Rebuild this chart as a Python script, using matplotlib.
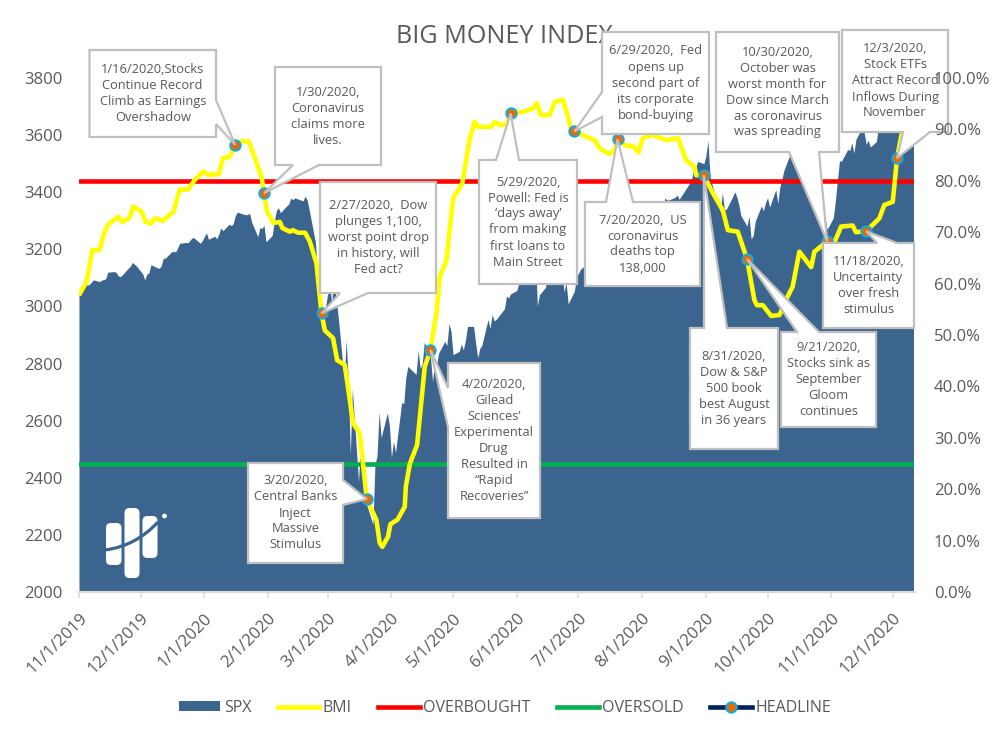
import matplotlib
matplotlib.use('Agg')
import matplotlib.pyplot as plt
import matplotlib.dates as mdates
import pandas as pd
from matplotlib.lines import Line2D
from matplotlib.patches import FancyBboxPatch, PathPatch, Circle, Polygon
from matplotlib.path import Path
from matplotlib.ticker import PercentFormatter
from matplotlib.transforms import IdentityTransform

plt.rcParams['font.family'] = ['Open Sans', 'DejaVu Sans']

# SPX closes, one per trading day
holidays = ['2019-11-28', '2019-12-25', '2020-01-01', '2020-01-20', '2020-02-17',
            '2020-04-10', '2020-05-25', '2020-07-03', '2020-09-07', '2020-11-26']
spx_values = [
    3052, 3078, 3075, 3077, 3085, 3093, 3087, 3092, 3094, 3097, 3120, 3122, 3120, 3108, 3104, 3110, 3134, 3141, 3154, 3141,
    3114, 3093, 3113, 3117, 3146, 3136, 3133, 3142, 3169, 3169, 3191, 3193, 3191, 3205, 3221, 3224, 3223, 3240, 3240, 3221, 3231,
    3258, 3235, 3246, 3237, 3253, 3275, 3265, 3288, 3283, 3289, 3317, 3330, 3321, 3322, 3326, 3295, 3244, 3276, 3273, 3284, 3226,
    3249, 3298, 3335, 3346, 3328, 3352, 3358, 3379, 3374, 3380, 3370, 3386, 3373, 3338, 3226, 3128, 3116, 2979, 2954,
    3090, 3003, 3130, 3024, 2972, 2747, 2882, 2741, 2481, 2711, 2386, 2529, 2398, 2409, 2305, 2237, 2447, 2476, 2630, 2541, 2627, 2585,
    2471, 2527, 2489, 2664, 2659, 2750, 2790, 2762, 2846, 2783, 2800, 2875, 2823, 2737, 2799, 2798, 2837, 2878, 2863, 2940, 2912,
    2831, 2843, 2868, 2848, 2881, 2930, 2930, 2870, 2820, 2853, 2864, 2954, 2923, 2972, 2949, 2955, 2992, 3036, 3030, 3044,
    3056, 3081, 3123, 3112, 3194, 3232, 3207, 3190, 3002, 3041, 3067, 3125, 3113, 3115, 3098, 3118, 3131, 3050, 3084, 3009, 3053, 3100,
    3116, 3130, 3155, 3180, 3145, 3170, 3152, 3185, 3155, 3198, 3227, 3216, 3225, 3252, 3257, 3276, 3236, 3216, 3239, 3218, 3246, 3271,
    3295, 3307, 3328, 3349, 3351, 3360, 3334, 3380, 3373, 3373, 3382, 3390, 3375, 3386, 3397, 3431, 3444, 3479, 3485, 3508, 3500,
    3527, 3581, 3455, 3427, 3332, 3399, 3339, 3341, 3384, 3401, 3385, 3357, 3319, 3281, 3316, 3237, 3247, 3298, 3352, 3335, 3363,
    3381, 3348, 3409, 3361, 3419, 3447, 3477, 3534, 3512, 3489, 3483, 3484, 3427, 3443, 3436, 3453, 3465, 3401, 3391, 3271, 3310, 3270,
    3310, 3369, 3443, 3510, 3509, 3550, 3546, 3573, 3537, 3585, 3627, 3610, 3568, 3582, 3558, 3578, 3635, 3630, 3638, 3622,
    3662, 3669, 3667, 3699, 3692, 3702, 3673, 3668, 3663,
]

# BMI, days since 11/1/2019 and percent
bmi_days = [0.5, 3.7, 6.5, 10, 12, 14, 19, 21, 24.5, 26.4, 30.5, 32.4, 35, 37, 40.7, 46, 49, 53, 56.4, 60.4,
            63.7, 68, 70, 73.4, 76, 79, 82.6, 85.6, 88.8, 90, 91.5, 94.5, 97.7, 99, 102.6, 104, 106.6, 110, 112.3, 115.5,
            118, 119.6, 123.6, 125.6, 129.3, 133.4, 136.6, 140, 144.7, 146.3, 147.6, 150.4, 151.5, 155, 158.5, 159, 161, 164.5, 168.2, 171,
            173.9, 175.5, 178.8, 182, 186.5, 190, 192.5, 194.1, 200.6, 202.2, 204.7, 207.9, 210, 216, 220.9, 222.8, 224.6, 229, 231.4, 235.4,
            237.9, 239.5, 241, 250.9, 253.3, 258.1, 260.6, 262, 266.3, 269.5, 272.2, 274.3, 279.2, 285.7, 291.4, 295.4, 299.5, 300.3, 304,
            308.4, 313.2, 315.7, 320.5, 325, 328.6, 329.8, 332.7, 336.8, 340.8, 344.8, 347.2, 350.5, 356.2, 357.8, 364, 367.5, 370.8, 376.4, 378,
            383, 389.4, 391.8, 395.9, 397.6, 398, 400, 402]
bmi_values = [58.1, 60.4, 66.5, 66.5, 69.5, 71.4, 73.0, 72.0, 72.7, 75.0, 74.0, 72.0, 71.7, 72.7, 72.2, 74.0, 78.3, 78.3, 80.2, 81.8,
              81.1, 81.3, 84.4, 84.7, 87.0, 87.7, 87.7, 84.4, 80.8, 77.6, 74.0, 71.8, 72.0, 70.8, 70.1, 70.4, 69.9, 69.9, 68.2, 64.0,
              54.2, 50.9, 49.4, 45.1, 44.2, 32.8, 30.9, 18.1, 14.0, 9.5, 8.8, 10.8, 13.2, 14.1, 16.6, 20.5, 25.0, 28.6, 43.8, 47.1,
              54.2, 61.3, 64.6, 76.6, 79.5, 87.9, 91.5, 90.5, 90.5, 91.4, 90.9, 90.9, 93.1, 93.4, 94.1, 95.1, 92.8, 92.8, 95.3, 95.8,
              92.5, 89.9, 89.6, 87.9, 86.3, 85.2, 86.0, 88.1, 86.8, 86.8, 85.5, 88.3, 88.9, 87.9, 88.3, 84.0, 82.7, 81.1, 81.1,
              77.6, 74.3, 70.4, 70.1, 64.8, 56.8, 55.8, 55.8, 53.7, 53.9, 57.5, 59.4, 66.2, 63.2, 66.2, 68.2, 68.0, 71.1, 71.3, 70.0,
              70.2, 72.7, 75.3, 75.9, 82.7, 84.4, 88.6, 92.0]

overbought = 80
oversold = 25

headline_dates = ['2020-01-16', '2020-01-30', '2020-02-27', '2020-03-20', '2020-04-20', '2020-05-29', '2020-06-29',
                  '2020-07-20', '2020-08-31', '2020-09-21', '2020-10-30', '2020-11-18', '2020-12-03']
headline_values = [87.0, 77.6, 54.2, 18.1, 47.1, 93.1, 89.6, 88.1, 81.1, 64.8, 68.2, 70.2, 84.4]
headline_texts = [
    '1/16/2020,Stocks\nContinue Record\nClimb as Earnings\nOvershadow',
    '1/30/2020,\nCoronavirus\nclaims more\nlives.',
    '2/27/2020,  Dow\nplunges 1,100,\nworst point drop\nin history, will\nFed act?',
    '3/20/2020,\nCentral Banks\nInject\nMassive\nStimulus',
    '4/20/2020,\nGilead\nSciences’\nExperimental\nDrug\nResulted in\n“Rapid\nRecoveries”',
    '5/29/2020,\nPowell: Fed is\n‘days away’\nfrom making\nfirst loans to\nMain Street',
    '6/29/2020,  Fed\nopens up\nsecond part of\nits corporate\nbond-buying',
    '7/20/2020,  US\ncoronavirus\ndeaths top\n138,000',
    '8/31/2020,\nDow & S&P\n500 book\nbest August\nin 36 years',
    '9/21/2020,\nStocks sink as\nSeptember\nGloom\ncontinues',
    '10/30/2020,\nOctober was\nworst month for\nDow since March\nas coronavirus\nwas spreading',
    '11/18/2020,\nUncertainty\nover fresh\nstimulus',
    '12/3/2020,\nStock ETFs\nAttract Record\nInflows During\nNovember',
]

# callout layout in image pixels: box (left, top, right, bottom), side the tail leaves from, tail base
callout_boxes = [(89.5, 50, 216, 137), (275, 67, 381, 165), (320, 182, 436, 293), (248, 463, 343, 563),
                 (448, 363, 540, 518), (479, 160, 577, 284), (602, 32, 709, 134), (585, 202, 700, 286),
                 (690, 328, 778, 449), (781, 332, 876, 427), (716, 32, 839, 152), (823, 243, 914, 328),
                 (842, 30, 948, 132)]
callout_tails = [('right', 100, 124), ('bottom', 293, 319), ('bottom', 340, 368), ('right', 480, 505),
                 ('left', 388, 427), ('top', 496, 519), ('left', 92, 117), ('top', 606, 633),
                 ('top', 704, 727), ('top', 797, 819), ('bottom', 789, 819), ('top', 877, 897),
                 ('bottom', 903, 930)]

W, H = 1002, 739
GREY_TEXT = '#595959'
BLUE = '#3B658E'
BOX_EDGE = '#BFBFBF'


def flip(x, y):
    return x, H - y


def callout_shape(box, tail, tip):
    left, top, right, bottom = box
    side, a, b = tail
    tl, tr, br, bl = flip(left, top), flip(right, top), flip(right, bottom), flip(left, bottom)
    if side == 'top':
        return [tl, flip(a, top), tip, flip(b, top), tr, br, bl]
    if side == 'right':
        return [tl, tr, flip(right, a), tip, flip(right, b), br, bl]
    if side == 'bottom':
        return [tl, tr, br, flip(b, bottom), tip, flip(a, bottom), bl]
    return [tl, tr, br, bl, flip(left, b), tip, flip(left, a)]


spx_dates = pd.bdate_range('2019-11-01', '2020-12-11').drop(pd.to_datetime(holidays))
start = pd.Timestamp('2019-11-01')
bmi_dates = start + pd.to_timedelta(bmi_days, unit='D')
marks = pd.to_datetime(headline_dates)

fig = plt.figure(figsize=(W / 100, H / 100), dpi=100, facecolor='white')
ax = fig.add_axes([79 / W, 1 - 592 / H, (914.5 - 79) / W, (592 - 78) / H])
ax2 = ax.twinx()

ax.fill_between(spx_dates, spx_values, 2000, color=BLUE, lw=0)
ax.set_xlim(start, pd.Timestamp('2020-12-11 12:00'))
ax.set_ylim(2000, 3800)
ax.set_yticks(range(2000, 3801, 200))
ax.tick_params(axis='y', length=0, pad=12, labelsize=12, labelcolor=GREY_TEXT)

months = pd.date_range('2019-11-01', '2020-12-01', freq='MS')
ax.set_xticks(months)
ax.set_xticklabels([f'{m.month}/{m.day}/{m.year}' for m in months], rotation=45, ha='right',
                   rotation_mode='anchor', fontsize=12, color=GREY_TEXT)
ax.tick_params(axis='x', length=4, width=1.1, color='#D9D9D9', pad=9)
ax.set_title('BIG MONEY INDEX', x=0.509, y=1.068, pad=0, fontsize=18.1, color=GREY_TEXT)

for a in (ax, ax2):
    for name in ('top', 'left', 'right'):
        a.spines[name].set_visible(False)
    a.spines['bottom'].set_color('#D9D9D9')
    a.spines['bottom'].set_linewidth(1.5)

ax2.set_ylim(0, 100)
ax2.set_yticks(range(0, 101, 10))
ax2.yaxis.set_major_formatter(PercentFormatter(100, decimals=1))
ax2.tick_params(axis='y', length=0, pad=14, labelsize=12, labelcolor=GREY_TEXT)
ax2.yaxis.set_zorder(20)

ax2.axhline(overbought, color='#FF0000', lw=3.3, solid_capstyle='round', zorder=2)
ax2.axhline(oversold, color='#00B050', lw=3.3, solid_capstyle='round', zorder=2)
ax2.plot(bmi_dates, bmi_values, color='#FFFF00', lw=3.3, solid_joinstyle='round', zorder=3)
ax2.plot(marks, headline_values, ls='none', marker='o', ms=7.6, mfc='#E36C0A', mec='#00B0F0', mew=1.3, zorder=4)

# callouts sit over the lines but under the right axis labels
tips = ax2.transData.transform(list(zip(mdates.date2num(marks), headline_values)))
for i, (box, tail, tip, label) in enumerate(zip(callout_boxes, callout_tails, tips, headline_texts)):
    ax2.add_patch(Polygon(callout_shape(box, tail, tuple(tip)), closed=True, fc='white', ec=BOX_EDGE, lw=1.6,
                          joinstyle='miter', transform=IdentityTransform(), clip_on=False, zorder=10 + i * 0.1))
    cx, cy = flip((box[0] + box[2]) / 2, (box[1] + box[3]) / 2)
    ax2.text(cx, cy, label, ha='center', va='center', fontsize=9.3, color=GREY_TEXT, linespacing=1.3,
             transform=IdentityTransform(), clip_on=False, zorder=10.05 + i * 0.1)

# white logo, lower left
for x0, y0, x1, y1 in [(106, 523, 121.5, 565), (124.5, 508, 139.5, 578), (142.5, 516, 157.5, 558)]:
    ax2.add_patch(FancyBboxPatch((x0 + 4, H - y1 + 4), x1 - x0 - 8, y1 - y0 - 8, boxstyle='round,pad=4,rounding_size=5',
                                 fc='white', ec='none', transform=IdentityTransform(), zorder=5))
ax2.add_patch(Circle(flip(164.5, 516), 2.4, fc='white', ec='none', transform=IdentityTransform(), zorder=5))
ax2.add_patch(PathPatch(Path([flip(105, 550), flip(136, 546), flip(158, 522)], [Path.MOVETO, Path.CURVE3, Path.CURVE3]),
                        fc='none', ec=BLUE, lw=2.3, transform=IdentityTransform(), zorder=6))

handles = [
    plt.Rectangle((0, 0), 1, 1, fc=BLUE, ec='none'),
    Line2D([], [], color='#FFFF00', lw=3.3),
    Line2D([], [], color='#FF0000', lw=3.3),
    Line2D([], [], color='#00B050', lw=3.3),
    Line2D([], [], color='#002060', lw=3.3, marker='o', ms=7.6, mfc='#E36C0A', mec='#00B0F0', mew=1.3),
]
fig.legend(handles, ['SPX', 'BMI', 'OVERBOUGHT', 'OVERSOLD', 'HEADLINE'], loc='center', bbox_to_anchor=(505 / W, 1 - 708 / H),
           ncol=5, frameon=False, fontsize=11.5, labelcolor=GREY_TEXT, handlelength=2.6, handleheight=0.6,
           handletextpad=0.22, columnspacing=1.66)

fig.savefig('out.png', dpi=100)
